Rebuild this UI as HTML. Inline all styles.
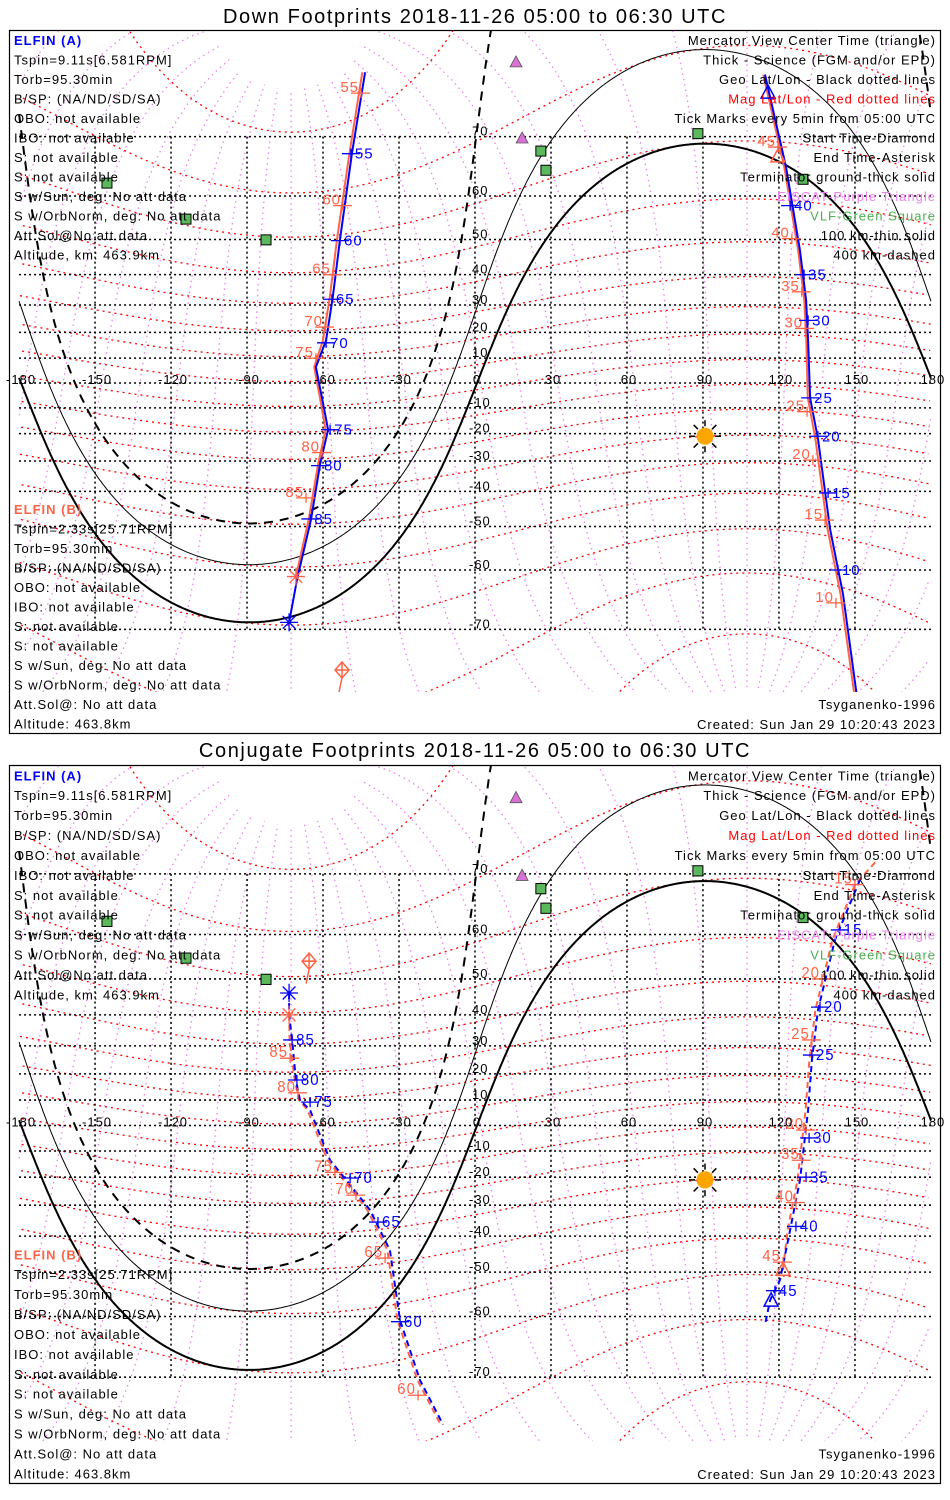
<!DOCTYPE html>
<html><head><meta charset="utf-8"><title>ELFIN Footprints</title>
<style>
html,body{margin:0;padding:0;background:#fff;overflow:hidden;width:950px;height:1500px;}
svg{display:block;}
text{font-family:"Liberation Sans",sans-serif;}
</style></head>
<body>
<svg id="fig" width="950" height="1500" viewBox="0 0 950 1500" xmlns="http://www.w3.org/2000/svg">
<rect x="0" y="0" width="950" height="1500" fill="#fff"/>
<text x="475" y="23" text-anchor="middle" font-size="20" letter-spacing="1.6">Down Footprints 2018-11-26 05:00 to 06:30 UTC</text>
<text x="475" y="757" text-anchor="middle" font-size="20" letter-spacing="1.6">Conjugate Footprints 2018-11-26 05:00 to 06:30 UTC</text>
<g id="p1"></g>
<g id="p2" transform="translate(0,765) scale(1,1.0213) translate(0,-30)"></g>
</svg>
<script>
// ---- shared data ----
const lonTicks=[-180,-150,-120,-90,-60,-30,0,30,60,90,120,150,180];
const latTicks=[-70,-60,-50,-40,-30,-20,-10,0,10,20,30,40,50,60,70];
const sunLon=90.8, sunDecl=-21;
const terminatorAlts=[0,100,400];
const vlfLon=[-145.3,-114.1,-82.5,26,28,88,129.5];
const vlfLat=[62.5,55,49.9,67.9,64.8,70.4,63.2];
const eiscatLon=[16.2,18.6];
const eiscatLat=[78.1,69.8];
// Down footprints
const d_aLon=[-43.4,-48.6,-53.3,-56.1,-58.8,-62.8,-60.4,-58,-61.2,-64.7,-70.3,-73.4];
const d_aLat=[77.2,67.5,50,33,17,6.4,-6,-18.5,-31.3,-48,-62,-69];
const d_aLon2=[114.5,122.8,128.3,130.7,131.5,132.3,135.4,140.2,145.3,150.8];
const d_aLat2=[77,65.3,47,31.7,17,-6,-22,-50.7,-64.5,-77.5];
const d_bLon=[-44.5,-49.6,-54.5,-57.3,-60,-63.5,-61.2,-59,-62,-65.6,-70.7];
const d_bLat=[77.2,67.5,50,33,17,6.4,-6,-18.5,-31.3,-48,-61.3];
const d_bLon2=[113.8,122.1,127.6,130,130.8,131.4,134.4,139.2,144.3,149.9];
const d_bLat2=[77,65.3,47,31.7,17,-6,-22,-50.7,-64.5,-77.5];
const d_aTickLbl=["55","60","65","70","75","80","85","40","35","30","25","20","15","10"];
const d_aTickLon=[-49,-53.3,-56.5,-58.8,-57.2,-61.2,-65,124.4,129.9,131.5,132.3,135.4,139.4,143.3];
const d_aTickLat=[67.5,49.7,32,16,-18.5,-31.6,-48,58,40,24.5,-6,-21,-40.5,-60];
const d_bTickLbl=["55","60","65","70","75","80","85","45","40","35","30","25","20","15","10"];
const d_bTickLon=[-45,-52.1,-56.1,-59.2,-62.8,-60.4,-66.7,119.6,125.1,129,130.3,131.1,133.4,138.2,142.5];
const d_bTickLat=[75.2,58,40,22,10,-27,-42,68.5,50.2,34.5,21.5,-11.5,-29.7,-48.3,-66];
const d_markers={aEnd:[-73.4,-69],bEnd:[-70.7,-61.3],bStart:[-52.5,-74.9],aCenter:[115.7,75.2],bCenter:[119.6,67]};
// Conjugate footprints
const c_aLon=[-73.4,-73.4,-72.2,-70.7,-69.1,-65.1,-57.2,-49.3,-41.5,-33.6,-29.6,-21.7,-12.6];
const c_aLat=[46.3,40.1,32,17.7,10,6.1,-13.6,-22.8,-31.6,-44.1,-60.7,-70.4,-75.5];
const c_bLon=[-73.4,-73.2,-71.2,-69.5,-66.1,-58.2,-50.3,-42.5,-34.6,-30.6,-22.7,-13.6];
const c_bLat=[40.1,32,17.7,10,6.1,-13.6,-22.8,-31.6,-44.1,-60.7,-70.4,-75.5];
const c_aLon2=[152,142.1,135.4,133,131.5,128.3,124.4,120.4,116.5,114.5];
const c_aLat2=[69.2,58.9,41.5,25,6.1,-21,-38.1,-51.9,-56.6,-61.6];
const c_bLon2=[158,150,141.1,134.4,132,130.5,127.3,123.4,121.6];
const c_bLat2=[71.5,68.5,58.9,41.5,25,6.1,-21,-38.1,-49.5];
const c_aTickLbl=["85","80","75","70","65","60","15","20","25","30","35","40","45"];
const c_aTickLon=[-72.2,-70.3,-65.1,-49.3,-38.3,-29.6,144,136.2,133,131.9,130.7,126.7,118.4];
const c_aTickLat=[32,17.7,9.2,-20.3,-35.6,-61,60.9,42.3,26.8,-4.9,-20,-37,-54.5];
const c_bTickLbl=["85","80","75","70","65","60","15","20","25","30","35","40","45"];
const c_bTickLon=[-73,-69.9,-55.3,-47,-35.5,-22.5,150,137,133,130.7,129,126.7,121.6];
const c_bTickLat=[25.7,12.8,-18.2,-26.5,-46.3,-72.3,68.5,50,32,-1.8,-13.6,-29.1,-47.4];
const c_markers={aEnd:[-73.4,46.3],bEnd:[-73.4,40],bStart:[-65.5,54.3],aCenter:[116.9,-56.8],bCenter:[121.6,-49.5]};

const leftA=["Tspin=9.11s[6.581RPM]","Torb=95.30min","B/SP: (NA/ND/SD/SA)","OBO: not available","IBO: not available","S: not available","S: not available","S w/Sun, deg: No att data","S w/OrbNorm, deg: No att data","Att.Sol@No att data","Altitude, km: 463.9km"];
const leftB=["Tspin=2.33s[25.71RPM]","Torb=95.30min","B/SP: (NA/ND/SD/SA)","OBO: not available","IBO: not available","S: not available","S: not available","S w/Sun, deg: No att data","S w/OrbNorm, deg: No att data","Att.Sol@: No att data","Altitude: 463.8km"];
const legendTxt=["Mercator View Center Time (triangle)","Thick - Science (FGM and/or EPD)","Geo Lat/Lon - Black dotted lines","Mag Lat/Lon - Red dotted lines","Tick Marks every 5min from 05:00 UTC","Start Time-Diamond","End Time-Asterisk","Terminator ground-thick solid","EISCAT-Purple Triangle","VLF-Green Square","100 km-thin solid","400 km-dashed"];
const legendCol=["#000","#000","#000","#f00","#000","#000","#000","#000","#ee82ee","#4caf50","#000","#000"];

// ---- axes ----
const D=Math.PI/180;
const X=lon=>475+2.533*lon;
const Y=lat=>383-142*Math.log(Math.tan(Math.PI/4+lat*D/2));
const NS="http://www.w3.org/2000/svg";
const BLUE="#0000ff", RED="#ff6347";
function mk(parent,tag,attrs){const e=document.createElementNS(NS,tag);for(const k in attrs)e.setAttribute(k,attrs[k]);parent.appendChild(e);return e;}
function ptsPath(lons,lats){let d="";let prev=null;for(let i=0;i<lons.length;i++){const x=X(lons[i]),y=Y(lats[i]);if(prev===null||Math.abs(x-prev)>300)d+="M"+x.toFixed(1)+","+y.toFixed(1);else d+="L"+x.toFixed(1)+","+y.toFixed(1);prev=x;}return d;}
function mag2geo(lm,fm){const pl=80.6*D,pf=-72.6*D,a=(90*D-pl);const x=Math.cos(lm*D)*Math.cos(fm*D),y=Math.cos(lm*D)*Math.sin(fm*D),z=Math.sin(lm*D);const x1=x*Math.cos(a)+z*Math.sin(a),z1=-x*Math.sin(a)+z*Math.cos(a);const x2=x1*Math.cos(pf)-y*Math.sin(pf),y2=x1*Math.sin(pf)+y*Math.cos(pf);return [Math.atan2(y2,x2)/D,Math.asin(Math.max(-1,Math.min(1,z1)))/D];}

function drawPanel(g,id,cfg){
  mk(g,"rect",{x:9.5,y:30.5,width:931,height:703,fill:"none",stroke:"#000","stroke-width":1.2,});
  const cp=mk(g,"clipPath",{id:"clip"+id});mk(cp,"rect",{x:10,y:31,width:930,height:661});
  const m=mk(g,"g",{"clip-path":"url(#clip"+id+")"});
  
  
  for(let fm=0;fm<360;fm+=15){let lo=[],la=[];for(let lm=-86;lm<=86;lm+=1.5){const r=mag2geo(lm,fm);lo.push(r[0]);la.push(r[1]);}
    const p=mk(m,"path",{d:ptsPath(lo,la),fill:"none",stroke:"#ee82ee","stroke-width":1.3,"stroke-dasharray":"1.5,4"});
    
    }
  for(let lm=-80;lm<=80;lm+=10){let lo=[],la=[];for(let fm=0;fm<=360;fm+=1.5){const r=mag2geo(lm,fm);lo.push(r[0]);la.push(r[1]);}
    const p=mk(m,"path",{d:ptsPath(lo,la),fill:"none",stroke:"#ff0000","stroke-width":1.3,"stroke-dasharray":"2,4"});
    
    }
  latTicks.forEach(lat=>{const l=mk(m,"line",{x1:X(-180),x2:X(180),y1:Y(lat),y2:Y(lat),stroke:"#000","stroke-width":1.5,"stroke-dasharray":"2,3"});
    
    });
  lonTicks.slice(1,-1).forEach(lon=>{const l=mk(m,"line",{x1:X(lon),x2:X(lon),y1:Y(70),y2:Y(-70),stroke:"#000","stroke-width":1.5,"stroke-dasharray":"2,3"});
    
    });
  terminatorAlts.forEach(h=>{const dip=Math.acos(6371/(6371+h));const c=-Math.sin(dip);
    [1,-1].forEach(sg=>{let d="",pen=false;for(let lon=-180;lon<=180;lon+=0.5){const dl=(lon-sunLon)*D;const a=Math.sin(sunDecl*D),b=Math.cos(sunDecl*D)*Math.cos(dl);const r=Math.hypot(a,b);let ok=Math.abs(c/r)<=1,lat=0;if(ok){lat=(Math.atan2(a,b)+sg*Math.acos(c/r))/D;if(lat>180)lat-=360;if(lat<-180)lat+=360;ok=Math.abs(lat)<=85;}
      if(ok){d+=(pen?"L":"M")+X(lon).toFixed(1)+","+Y(lat).toFixed(1);pen=true;}else pen=false;}
      if(d){const p=mk(m,"path",{d:d,fill:"none",stroke:"#000","stroke-width":h===100?1:2});if(h===400)p.setAttribute("stroke-dasharray","9,7");
        
        }});});
  vlfLon.forEach((lo,i)=>{const r=mk(m,"rect",{x:X(lo)-5,y:Y(vlfLat[i])-5,width:10,height:10,fill:"#5cb85c",stroke:"#000","stroke-width":1});
    
    });
  eiscatLon.forEach((lo,i)=>{const x=X(lo),y=Y(eiscatLat[i]);const t=mk(m,"polygon",{points:`${x},${y-6} ${x-6},${y+5} ${x+6},${y+5}`,fill:"#da70d6",stroke:"#555","stroke-width":0.8});
    
    });
  const sx=X(sunLon),sy=Y(sunDecl);
  for(let k=0;k<8;k++){const an=k*Math.PI/4;const l=mk(m,"line",{x1:sx+10*Math.cos(an),y1:sy+10*Math.sin(an),x2:sx+16*Math.cos(an),y2:sy+16*Math.sin(an),stroke:"#000","stroke-width":1.5});
    
    }
  const sc=mk(m,"circle",{cx:sx,cy:sy,r:8.5,fill:"#ffa500"});
  
  
  const dash=cfg.dashed?"6,4":"none";
  cfg.bTracks.forEach(t=>{const p=mk(m,"path",{d:ptsPath(t[0],t[1]),fill:"none",stroke:RED,"stroke-width":2,"stroke-dasharray":dash});
    
    });
  cfg.aTracks.forEach(t=>{const p=mk(m,"path",{d:ptsPath(t[0],t[1]),fill:"none",stroke:BLUE,"stroke-width":2,"stroke-dasharray":dash});
    
    });
  cfg.bTicks[0].forEach((lbl,i)=>{const x=X(cfg.bTicks[1][i]),y=Y(cfg.bTicks[2][i]);
    const l=mk(m,"path",{d:`M${x-10},${y}H${x+9}M${x},${y-5}V${y+5}`,stroke:RED,"stroke-width":1.3,fill:"none"});
    
    
    const t=mk(m,"text",{x:x-2,y:y-1,"text-anchor":"end","font-size":15,"letter-spacing":1,fill:RED});t.textContent=lbl;
    
    });
  cfg.aTicks[0].forEach((lbl,i)=>{const x=X(cfg.aTicks[1][i]),y=Y(cfg.aTicks[2][i]);
    const l=mk(m,"path",{d:`M${x-9},${y}H${x+9}M${x},${y-5}V${y+5}`,stroke:BLUE,"stroke-width":1.3,fill:"none"});
    
    
    const t=mk(m,"text",{x:x+4,y:y+5,"font-size":15,"letter-spacing":1,fill:BLUE});t.textContent=lbl;
    
    });
  const mkr=cfg.markers;
  function aster(p,col,name){const x=X(p[0]),y=Y(p[1]);let d="";for(let k=0;k<4;k++){const an=k*Math.PI/4;d+=`M${x-9*Math.cos(an)},${y-9*Math.sin(an)}L${x+9*Math.cos(an)},${y+9*Math.sin(an)}`;}
    const e=mk(m,"path",{d:d,stroke:col,"stroke-width":1.3,fill:"none"});
    
    }
  aster(mkr.aEnd,BLUE,'elfin-a-end-asterisk');aster(mkr.bEnd,RED,'elfin-b-end-asterisk');
  {const x=X(mkr.bStart[0]),y=Y(mkr.bStart[1]);const e=mk(m,"path",{d:`M${x},${y-8}L${x+7},${y}L${x},${y+8}L${x-7},${y}ZM${x-7},${y}H${x+7}M${x},${y-8}V${y+8}M${x},${y+8}L${x-3},${y+22}`,stroke:RED,"stroke-width":1.5,fill:"none"});
    
    }
  [[mkr.aCenter,BLUE,'elfin-a-center-triangle'],[mkr.bCenter,RED,'elfin-b-center-triangle']].forEach(q=>{const x=X(q[0][0]),y=Y(q[0][1]);const e=mk(m,"polygon",{points:`${x},${y-8} ${x-7},${y+5} ${x+7},${y+5}`,fill:"none",stroke:q[1],"stroke-width":1.5});
    
    });
  lonTicks.forEach(lon=>{const t=mk(g,"text",{x:X(lon)+2,y:Y(0)+1,"text-anchor":"middle","font-size":13,"letter-spacing":1,fill:"#000"});t.textContent=String(lon);
    
    });
  latTicks.forEach(lat=>{if(lat===0)return;const t=mk(g,"text",{x:lat<0?X(0)-6:X(0)-3,y:Y(lat)-1,"font-size":13,"letter-spacing":1,fill:"#000"});t.textContent=String(lat);
    
    });
  const tA=mk(g,"text",{x:14,y:45,"font-size":13,"font-weight":"bold","letter-spacing":1,fill:BLUE});tA.textContent="ELFIN (A)";
  
  
  leftA.forEach((s,i)=>{const t=mk(g,"text",{x:14,y:64.5+i*19.5,"font-size":13,"letter-spacing":1,fill:"#000"});t.textContent=s;
    
    });
  const tB=mk(g,"text",{x:14,y:514,"font-size":13,"font-weight":"bold","letter-spacing":1,fill:RED});tB.textContent="ELFIN (B)";
  
  
  leftB.forEach((s,i)=>{const t=mk(g,"text",{x:14,y:533.5+i*19.5,"font-size":13,"letter-spacing":1,fill:"#000"});t.textContent=s;
    
    });
  legendTxt.forEach((s,i)=>{const t=mk(g,"text",{x:936,y:45+i*19.5,"text-anchor":"end","font-size":13,"letter-spacing":1,fill:legendCol[i]});t.textContent=s;
    
    });
  const t1=mk(g,"text",{x:936,y:709,"text-anchor":"end","font-size":13,"letter-spacing":1});t1.textContent="Tsyganenko-1996";
  
  
  const t2=mk(g,"text",{x:936,y:729,"text-anchor":"end","font-size":13,"letter-spacing":1});t2.textContent="Created: Sun Jan 29 10:20:43 2023";
  
  
}
drawPanel(document.getElementById("p1"),1,{dashed:false,
  aTracks:[[d_aLon,d_aLat],[d_aLon2,d_aLat2]],bTracks:[[d_bLon,d_bLat],[d_bLon2,d_bLat2]],
  aTicks:[d_aTickLbl,d_aTickLon,d_aTickLat],bTicks:[d_bTickLbl,d_bTickLon,d_bTickLat],markers:d_markers});
drawPanel(document.getElementById("p2"),2,{dashed:true,
  aTracks:[[c_aLon,c_aLat],[c_aLon2,c_aLat2]],bTracks:[[c_bLon,c_bLat],[c_bLon2,c_bLat2]],
  aTicks:[c_aTickLbl,c_aTickLon,c_aTickLat],bTicks:[c_bTickLbl,c_bTickLon,c_bTickLat],markers:c_markers});
</script>
</body></html>
